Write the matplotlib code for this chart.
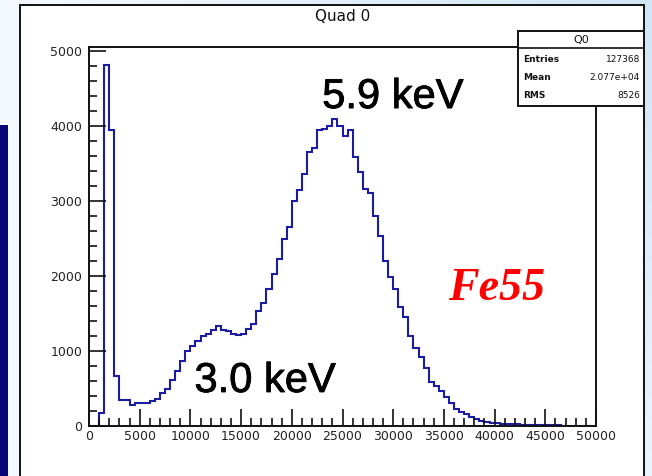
import matplotlib
matplotlib.use("Agg")
import matplotlib.pyplot as plt
import matplotlib.patheffects as pe
import numpy as np
from matplotlib.patches import Rectangle
from matplotlib.ticker import MultipleLocator

# Fe55 spectrum, Quad 0: 100 bins of width 500 between 0 and 50000
bin_edges = np.arange(0, 50001, 500)
counts = [
    0, 0, 170, 4820, 3950, 666, 341, 341, 278, 305,
    305, 310, 332, 354, 444, 497, 608, 733, 866, 1000,
    1067, 1134, 1200, 1223, 1277, 1330, 1277, 1270, 1225, 1220,
    1225, 1290, 1357, 1535, 1647, 1834, 2025, 2235, 2503, 2663,
    3000, 3148, 3362, 3660, 3705, 3950, 3960, 4010, 4100, 4000,
    3868, 3948, 3592, 3387, 3164, 3110, 2798, 2531, 2197, 1983,
    1827, 1586, 1453, 1203, 1047, 918, 771, 593, 535, 468,
    392, 303, 223, 192, 156, 125, 89, 71, 58, 45,
    36, 32, 28, 25, 22, 20, 17, 15, 13, 11,
    9, 8, 7, 6, 5, 5, 4, 3, 3, 2,
]

x_ticks = [0, 5000, 10000, 15000, 20000, 25000, 30000, 35000, 40000, 45000, 50000]
y_ticks = [0, 1000, 2000, 3000, 4000, 5000]

stat_names = ["Entries", "Mean", "RMS"]
stat_values = ["127368", "2.077e+04", "8526"]

W, H = 652, 476
fig = plt.figure(figsize=(W / 100, H / 100), dpi=100)

# slide background, canvas and the navy bar, in pixel coordinates
bg = fig.add_axes([0, 0, 1, 1], zorder=-10)
bg.set_xlim(0, W)
bg.set_ylim(H, 0)
bg.axis("off")
gx, gy = np.meshgrid(np.linspace(0, 1, 200), np.linspace(0, 1, 150))
grad = np.clip(gx * 0.8 - gy * 0.6, 0, 1)
c0 = np.array([0.96, 0.98, 1.0])
c1 = np.array([0.78, 0.88, 0.96])
img = c0 + (c1 - c0) * grad[..., None]
bg.imshow(img, extent=[0, W, H, 0], aspect="auto")
bg.add_patch(Rectangle((20, 5), 624, 480, facecolor="white", edgecolor="#111111", lw=1.4))
bg.add_patch(Rectangle((0, 125), 8, 360, facecolor="#06067a", edgecolor="none"))

# histogram frame
ax = fig.add_axes([89 / W, 1 - 426 / H, 507 / W, 379 / H])
ax.set_facecolor("none")
ax.stairs(counts, bin_edges, color="#1c1ca2", lw=1.5)
ax.set_xlim(0, 50000)
ax.set_ylim(0, 5060)
ax.set_xticks(x_ticks)
ax.set_xticklabels([str(v) for v in x_ticks])
ax.set_yticks(y_ticks)
ax.set_yticklabels([str(v) for v in y_ticks])
ax.xaxis.set_minor_locator(MultipleLocator(1000))
ax.yaxis.set_minor_locator(MultipleLocator(200))
ax.tick_params(which="major", direction="in", length=12, width=1.2, color="#111111",
               labelsize=9, labelcolor="#222222")
ax.tick_params(which="minor", direction="in", length=6, width=1.2, color="#111111")
ax.tick_params(axis="x", pad=3)
ax.tick_params(axis="y", pad=5)
for s in ax.spines.values():
    s.set_linewidth(1.4)
    s.set_color("#111111")

ax.set_title("Quad 0", fontsize=11, pad=19, color="#111111")

thick = [pe.withStroke(linewidth=0.6, foreground="black")]
ax.text(23000, 4245, "5.9 keV", fontsize=30, color="black",
        family="Liberation Sans", path_effects=thick)
ax.text(10400, 454, "3.0 keV", fontsize=30, color="black",
        family="Liberation Sans", path_effects=thick)
ax.text(35400, 1682, "Fe55", fontsize=33, color="red", family="Liberation Serif",
        fontweight="bold", style="italic")

# stats box
ov = fig.add_axes([0, 0, 1, 1], zorder=5)
ov.set_xlim(0, W)
ov.set_ylim(H, 0)
ov.axis("off")
ov.add_patch(Rectangle((518, 31), 126, 75, facecolor="white", edgecolor="#111111", lw=1.4))
ov.plot([518, 644], [48, 48], color="#111111", lw=1.2)
ov.text(581, 40, "Q0", fontsize=8, ha="center", va="center", color="#111111")
for i, (name, val) in enumerate(zip(stat_names, stat_values)):
    yy = 59 + i * 18
    ov.text(523, yy, name, fontsize=6.5, ha="left", va="center", color="#111111", fontweight="bold")
    ov.text(640, yy, val, fontsize=6.5, ha="right", va="center", color="#111111")

fig.savefig("out.png", dpi=100)
